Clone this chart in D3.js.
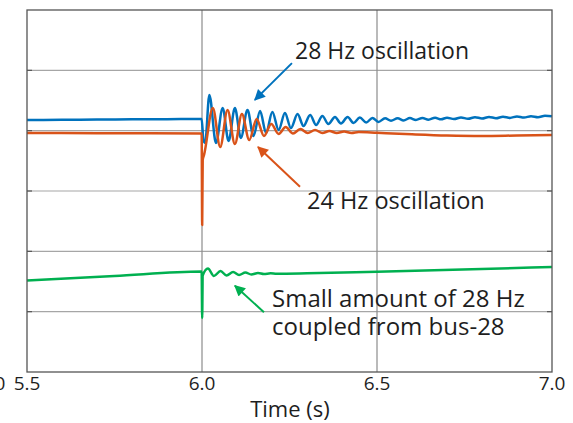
<!DOCTYPE html>
<html>
<head>
<meta charset="utf-8">
<script src="https://cdn.jsdelivr.net/npm/d3@7"></script>
<style>
  body { margin: 0; background: #fff; }
  text { font-family: "Open Sans", "DejaVu Sans", sans-serif; fill: #1e1e1e; }
</style>
</head>
<body>
<script>
"use strict";

// time (s), value (peaks / troughs of each trace)
const blueSeries = [
  [5.5, 4.177], [5.6, 4.180], [5.7, 4.185], [5.8, 4.188], [5.9, 4.190], [5.999, 4.194],
  [6.004, 3.845], [6.009, 3.796], [6.021, 4.591], [6.040, 3.796], [6.059, 4.376],
  [6.076, 3.829], [6.094, 4.376], [6.111, 3.879], [6.130, 4.343], [6.147, 3.912],
  [6.166, 4.326], [6.183, 3.961], [6.201, 4.310], [6.219, 4.011], [6.237, 4.293],
  [6.254, 4.044], [6.273, 4.276], [6.290, 4.078], [6.309, 4.260], [6.326, 4.094],
  [6.344, 4.243], [6.361, 4.111], [6.380, 4.226], [6.397, 4.119], [6.416, 4.226],
  [6.433, 4.127], [6.451, 4.218], [6.469, 4.135], [6.487, 4.210], [6.504, 4.144],
  [6.523, 4.205], [6.540, 4.165], [6.559, 4.205], [6.576, 4.170], [6.594, 4.208],
  [6.611, 4.178], [6.630, 4.210], [6.647, 4.182], [6.666, 4.214], [6.683, 4.188],
  [6.700, 4.216], [6.720, 4.192], [6.740, 4.220], [6.760, 4.197], [6.780, 4.224],
  [6.800, 4.202], [6.820, 4.228], [6.840, 4.206], [6.860, 4.232], [6.880, 4.212],
  [6.900, 4.236], [6.920, 4.218], [6.940, 4.240], [6.960, 4.224], [6.980, 4.246],
  [7.0, 4.240]
];

const orangeSeries = [
  [5.5, 3.961], [5.7, 3.958], [5.999, 3.955],
  [6.0005, 2.437], [6.002, 3.514], [6.006, 3.60],
  [6.031, 4.376], [6.052, 3.729], [6.073, 4.343], [6.094, 3.779], [6.114, 4.276],
  [6.135, 3.845], [6.156, 4.194], [6.177, 3.912], [6.198, 4.111], [6.219, 3.945],
  [6.239, 4.061], [6.260, 3.953], [6.281, 4.028], [6.302, 3.961], [6.323, 4.011],
  [6.344, 3.961], [6.364, 3.995], [6.385, 3.961], [6.406, 3.986], [6.427, 3.961],
  [6.448, 3.978], [6.5, 3.965], [6.6, 3.940], [6.7, 3.920], [6.8, 3.912],
  [6.9, 3.920], [7.0, 3.928]
];

const greenSeries = [
  [5.5, 1.517], [5.75, 1.592], [5.999, 1.666],
  [6.0005, 0.895], [6.002, 1.600],
  [6.017, 1.716], [6.034, 1.591], [6.053, 1.674], [6.070, 1.600], [6.089, 1.658],
  [6.106, 1.608], [6.124, 1.649], [6.141, 1.616], [6.160, 1.641], [6.177, 1.624],
  [6.196, 1.636], [6.213, 1.628], [6.3, 1.635], [6.5, 1.662], [7.0, 1.740]
];

const xTicks = [5.5, 6.0, 6.5, 7.0];
const yTicks = [0, 1, 2, 3, 4, 5, 6];

// annotation anchors in data units: text position, arrow tail, arrow tip
const notes = [
  { lines: ["28 Hz oscillation"], size: 23, text: [6.266, 5.19], tail: [6.257, 5.12], tip: [6.151, 4.51], color: "#0072BD" },
  { lines: ["24 Hz oscillation"], size: 23.5, text: [6.300, 2.70], tail: [6.28, 3.07], tip: [6.160, 3.73], color: "#D95319" },
  { lines: ["Small amount of 28 Hz", "coupled from bus-28"], size: 24, text: [6.20, 1.08], tail: [6.177, 0.99], tip: [6.094, 1.43], color: "#00B050" }
];

draw_chart();

function draw_chart() {
  const wSvg = 573, hSvg = 423;
  const left = 27, top = 10, right = 552, bottom = 372;

  const xScale = d3.scaleLinear().domain([5.5, 7.0]).range([left, right]);
  const yScale = d3.scaleLinear().domain([0, 6]).range([bottom, top]);

  const svg = d3.select("body").append("svg")
    .attr("width", wSvg).attr("height", hSvg);

  // grid
  svg.append("g").selectAll("line")
    .data(yTicks.slice(1, -1))
    .enter().append("line")
    .attr("x1", left).attr("x2", right)
    .attr("y1", d => yScale(d)).attr("y2", d => yScale(d))
    .attr("stroke", "#a6a6a6").attr("stroke-width", 1.2);

  svg.append("g").selectAll("line")
    .data(xTicks.slice(1, -1))
    .enter().append("line")
    .attr("x1", d => xScale(d)).attr("x2", d => xScale(d))
    .attr("y1", top).attr("y2", bottom)
    .attr("stroke", "#8c8c8c").attr("stroke-width", 1.2);

  // inner ticks on left/right edges
  const tickG = svg.append("g").attr("stroke", "#555").attr("stroke-width", 1.2);
  yTicks.slice(1, -1).forEach(v => {
    tickG.append("line").attr("x1", left).attr("x2", left + 5)
      .attr("y1", yScale(v)).attr("y2", yScale(v));
    tickG.append("line").attr("x1", right - 5).attr("x2", right)
      .attr("y1", yScale(v)).attr("y2", yScale(v));
  });

  // traces
  const line = d3.line()
    .x(d => xScale(d[0]))
    .y(d => yScale(d[1]))
    .curve(d3.curveMonotoneX);

  const traces = [
    { data: greenSeries, color: "#00B050" },
    { data: blueSeries, color: "#0072BD" },
    { data: orangeSeries, color: "#D95319" }
  ];
  svg.append("g").selectAll("path")
    .data(traces)
    .enter().append("path")
    .attr("d", d => line(d.data))
    .attr("fill", "none")
    .attr("stroke", d => d.color)
    .attr("stroke-width", 2.5)
    .attr("stroke-linejoin", "round");

  // box
  svg.append("rect")
    .attr("x", left).attr("y", top)
    .attr("width", right - left).attr("height", bottom - top)
    .attr("fill", "none").attr("stroke", "#555").attr("stroke-width", 1.3);

  // x axis labels
  svg.append("g").selectAll("text")
    .data(xTicks)
    .enter().append("text")
    .attr("x", d => xScale(d)).attr("y", 390)
    .attr("text-anchor", "middle")
    .attr("font-size", 19)
    .text(d => d.toFixed(1));

  // label cut off by the left edge (neighbouring panel)
  svg.append("text")
    .attr("x", -8).attr("y", 390)
    .attr("text-anchor", "middle").attr("font-size", 19)
    .text("5.0");

  svg.append("text")
    .attr("x", 290).attr("y", 417)
    .attr("text-anchor", "middle")
    .attr("font-size", 22)
    .text("Time (s)");

  // annotations
  const defs = svg.append("defs");
  notes.forEach((n, i) => {
    defs.append("marker")
      .attr("id", "arr" + i)
      .attr("viewBox", "0 0 10 10")
      .attr("refX", 9).attr("refY", 5)
      .attr("markerWidth", 6.5).attr("markerHeight", 5.5)
      .attr("markerUnits", "strokeWidth")
      .attr("orient", "auto")
      .append("path")
      .attr("d", "M0,0 L10,5 L0,10 Z")
      .attr("fill", n.color);

    svg.append("line")
      .attr("x1", xScale(n.tail[0])).attr("y1", yScale(n.tail[1]))
      .attr("x2", xScale(n.tip[0])).attr("y2", yScale(n.tip[1]))
      .attr("stroke", n.color).attr("stroke-width", 2)
      .attr("marker-end", `url(#arr${i})`);

    const t = svg.append("text")
      .attr("x", xScale(n.text[0])).attr("y", yScale(n.text[1]))
      .attr("font-size", n.size);
    n.lines.forEach((s, j) => {
      t.append("tspan")
        .attr("x", xScale(n.text[0]))
        .attr("dy", j == 0 ? 0 : 28)
        .text(s);
    });
  });
}
</script>
</body>
</html>
